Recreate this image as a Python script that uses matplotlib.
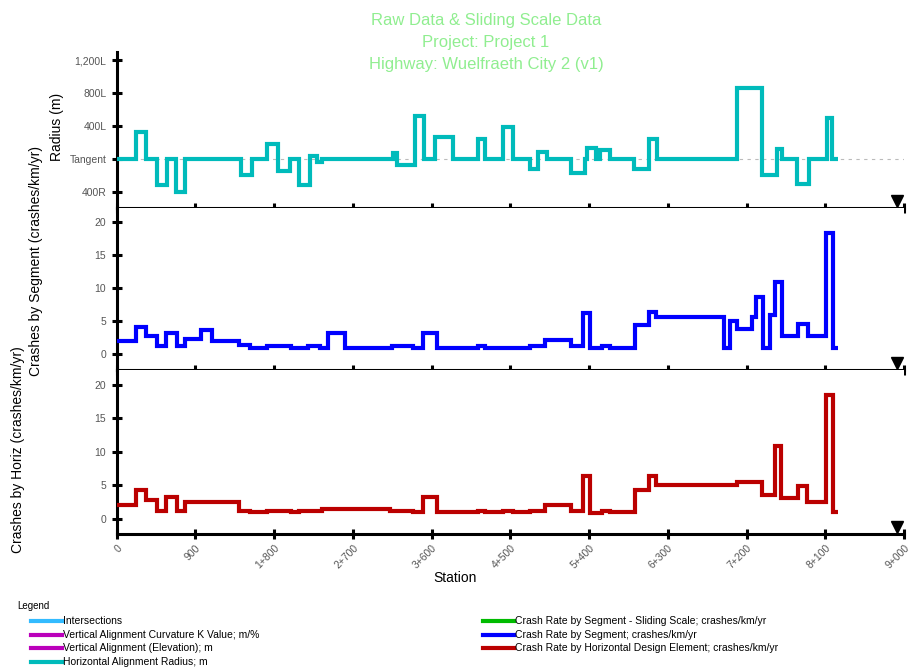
import matplotlib
matplotlib.use('Agg')
import matplotlib.pyplot as plt
from matplotlib.lines import Line2D
import numpy as np

plt.rcParams['font.family'] = ['Liberation Sans', 'DejaVu Sans']

# station ticks (m)
station_ticks = [0, 900, 1800, 2700, 3600, 4500, 5400, 6300, 7200, 8100, 9000]
station_labels = ['0', '900', '1+800', '2+700', '3+600', '4+500', '5+400',
                  '6+300', '7+200', '8+100', '9+000']
end_station = 8920

# horizontal alignment radius (m), + = left, - = right, 0 = tangent
radius_edges = [0, 221, 331, 461, 571, 678, 781, 1421, 1547, 1718, 1844, 1981, 2084,
                2209, 2289, 2347, 3158, 3204, 3410, 3512, 3638, 3844, 4130, 4210, 4415,
                4526, 4724, 4812, 4915, 5189, 5353, 5379, 5475, 5524, 5638, 5913, 6084,
                6172, 7093, 7379, 7551, 7601, 7772, 7913, 8115, 8172, 8248]
radius_vals = [0, 330, 0, -310, 0, -400, 0, -190, 0, 190, -140, 0, -310, 40, -30, 0,
               72, -68, 520, 0, 268, 0, 240, 0, 392, 0, -120, 88, 0, -160, 0, 132, 0,
               112, 0, -120, 248, 0, 860, -188, 120, 0, -300, 0, 500, 0]
radius_ticks = [-400, 0, 400, 800, 1200]
radius_labels = ['400R', 'Tangent', '400L', '800L', '1,200L']

# crash rate by segment (crashes/km/yr)
seg_edges = [0, 221, 331, 464, 560, 693, 781, 963, 1086, 1402, 1524, 1714, 1992, 2190,
             2324, 2419, 2610, 3143, 3390, 3505, 3657, 4133, 4210, 4724, 4896, 5189,
             5334, 5410, 5544, 5639, 5924, 6084, 6164, 6942, 7010, 7094, 7258, 7307,
             7391, 7467, 7524, 7601, 7791, 7905, 8107, 8184, 8248]
seg_vals = [2.1, 4.1, 2.8, 1.2, 3.2, 1.2, 2.4, 3.7, 2.0, 1.4, 1.0, 1.3, 1.0, 1.3, 1.0,
            3.2, 1.0, 1.3, 1.0, 3.2, 1.0, 1.3, 1.0, 1.3, 2.2, 1.2, 6.3, 0.9, 1.3, 1.0,
            4.4, 6.4, 5.7, 1.0, 5.0, 3.8, 5.7, 8.6, 1.0, 5.9, 11.0, 2.8, 4.6, 2.8,
            18.4, 1.0]

# crash rate by horizontal design element (crashes/km/yr)
horiz_edges = [0, 221, 331, 464, 560, 693, 781, 1402, 1524, 1714, 1992, 2084, 2343,
               3124, 3390, 3505, 3657, 4133, 4210, 4419, 4533, 4724, 4896, 5189, 5334,
               5410, 5544, 5639, 5924, 6084, 6164, 7094, 7379, 7524, 7590, 7791, 7894,
               8107, 8184, 8248]
horiz_vals = [2.1, 4.2, 2.8, 1.1, 3.2, 1.1, 2.5, 1.2, 0.95, 1.2, 0.95, 1.2, 1.5, 1.2,
              0.95, 3.2, 0.95, 1.2, 0.95, 1.2, 0.95, 1.2, 2.1, 1.2, 6.4, 0.85, 1.2,
              0.95, 4.3, 6.4, 5.0, 5.4, 3.6, 10.8, 3.1, 4.8, 2.5, 18.4, 0.95]
crash_ticks = [0, 5, 10, 15, 20]

legend_left = [('Intersections', '#33BBFF'),
               ('Vertical Alignment Curvature K Value; m/%', '#BB00BB'),
               ('Vertical Alignment (Elevation); m', '#BB00BB'),
               ('Horizontal Alignment Radius; m', '#00BBBB')]
legend_right = [('Crash Rate by Segment - Sliding Scale; crashes/km/yr', '#00BB00'),
                ('Crash Rate by Segment; crashes/km/yr', '#0000FF'),
                ('Crash Rate by Horizontal Design Element; crashes/km/yr', '#BB0000')]

W, H = 910, 669
fig = plt.figure(figsize=(W / 100, H / 100), dpi=100)


def rect(top, bottom):
    return [116.7 / W, 1 - bottom / H, (904 - 116.7) / W, (bottom - top) / H]


ax1 = fig.add_axes(rect(52, 208))
ax2 = fig.add_axes(rect(208, 370), sharex=ax1)
ax3 = fig.add_axes(rect(370, 534), sharex=ax1)

narrow = ['Liberation Sans Narrow', 'Liberation Sans', 'DejaVu Sans']
for ax in (ax1, ax2, ax3):
    for side in ('top', 'right'):
        ax.spines[side].set_visible(False)
    for side in ('left', 'bottom'):
        ax.spines[side].set_linewidth(2.2)
        ax.spines[side].set_capstyle('projecting')
    ax.set_xlim(0, 9000)
    ax.set_xticks(station_ticks)
    ax.tick_params(direction='inout', length=7, width=2.2, color='black',
                   labelcolor='#555555', labelsize=7.5, pad=4)
    for lab in ax.get_yticklabels():
        lab.set_family(narrow)
    ax.plot([end_station], [0.045], marker='v', color='black', markersize=8,
            transform=ax.get_xaxis_transform(), clip_on=False, zorder=5)

ax1.axhline(0, color='#bbbbbb', lw=0.8, ls=(0, (3, 4)), zorder=1)
ax1.stairs(radius_vals, radius_edges, baseline=None, color='#00BBBB', lw=3, zorder=3)
ax1.set_ylim(-590, 1300)
ax1.set_yticks(radius_ticks)
ax1.set_yticklabels(radius_labels, family=narrow)

ax2.stairs(seg_vals, seg_edges, baseline=None, color='#0000FF', lw=3, zorder=3)
ax2.set_ylim(-2.35, 22.1)
ax2.set_yticks(crash_ticks)

ax3.stairs(horiz_vals, horiz_edges, baseline=None, color='#BB0000', lw=3, zorder=3)
ax3.set_ylim(-2.3, 22.2)
ax3.set_yticks(crash_ticks)

for ax in (ax1, ax2):
    ax.tick_params(labelbottom=False)
ax3.set_xticklabels(station_labels, rotation=45, ha='right', rotation_mode='anchor',
                    family=narrow)
ax3.tick_params(axis='x', pad=3)

# title
title_lines = ['Raw Data & Sliding Scale Data', 'Project: Project 1',
               'Highway: Wuelfraeth City 2 (v1)']
for i, line in enumerate(title_lines):
    fig.text(486 / W, 1 - (20 + 22.5 * i) / H, line, ha='center', va='center',
             fontsize=12, color='#90EE90')

# axis labels
fig.text(57 / W, 1 - 127 / H, 'Radius (m)', rotation=90, ha='center', va='center',
         fontsize=10)
fig.text(36 / W, 1 - 261 / H, 'Crashes by Segment (crashes/km/yr)', rotation=90,
         ha='center', va='center', fontsize=10)
fig.text(18 / W, 1 - 450 / H, 'Crashes by Horiz (crashes/km/yr)', rotation=90,
         ha='center', va='center', fontsize=10)
fig.text(455 / W, 1 - 578 / H, 'Station', ha='center', va='center', fontsize=10)

# legend
fig.text(17 / W, 1 - 606 / H, 'Legend', ha='left', va='center', fontsize=7,
         family=narrow)
rows_y = [621, 634.5, 648, 662]
for (label, color), y in zip(legend_left, rows_y):
    fig.add_artist(Line2D([31 / W, 62 / W], [1 - y / H, 1 - y / H], color=color, lw=3,
                          transform=fig.transFigure))
    fig.text(63 / W, 1 - y / H, label, ha='left', va='center', fontsize=7.5,
             family=narrow)
for (label, color), y in zip(legend_right, rows_y):
    fig.add_artist(Line2D([483 / W, 514 / W], [1 - y / H, 1 - y / H], color=color, lw=3,
                          transform=fig.transFigure))
    fig.text(515 / W, 1 - y / H, label, ha='left', va='center', fontsize=7.5,
             family=narrow)

fig.savefig('out.png', dpi=100)
